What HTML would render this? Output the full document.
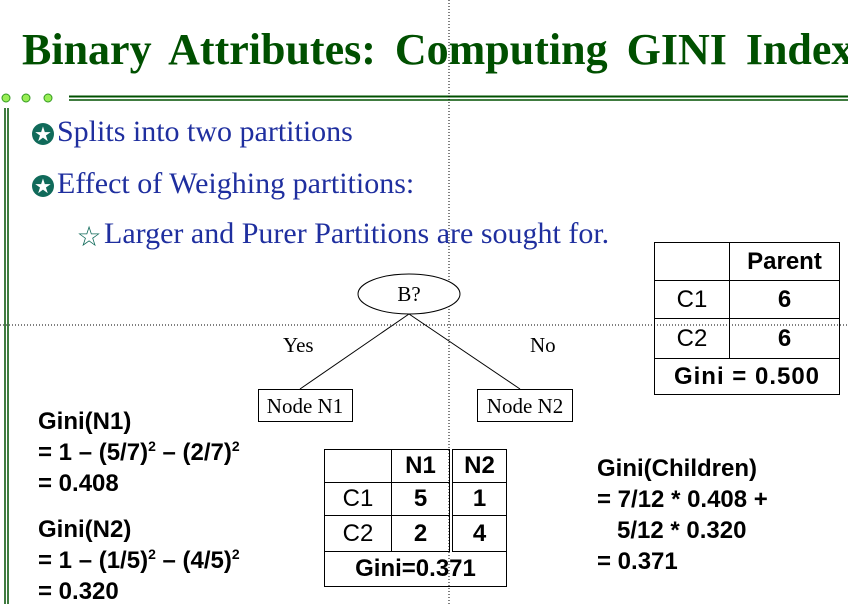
<!DOCTYPE html>
<html><head><style>
body{margin:0;width:848px;height:604px;overflow:hidden;background:#fff;position:relative;font-family:"Liberation Serif",serif}
.a{position:absolute;white-space:nowrap}
.t{color:#005000;font-weight:bold;font-size:44px;left:22px;top:24px;word-spacing:8px;width:826px;overflow:hidden}
.b{color:#1f2f9f;font-size:30px}
.s{font-family:"Liberation Sans",sans-serif;font-weight:bold;font-size:24px;color:#000;line-height:31px}
table{position:absolute;border-collapse:collapse;font-family:"Liberation Sans",sans-serif;font-size:24px}
td{border:1.5px solid #000;text-align:center;padding:0}
sup{font-size:14px;vertical-align:9px;line-height:0}
</style></head><body>
<div class="a t">Binary Attributes: Computing GINI Index</div>
<svg class="a" style="left:0;top:0" width="848" height="604">
<line x1="69" y1="96.5" x2="848" y2="96.5" stroke="#005000" stroke-width="2"/>
<line x1="69" y1="100" x2="848" y2="100" stroke="#005000" stroke-width="1.5"/>
<circle cx="6" cy="98" r="4" fill="#99ee55" stroke="#339922"/>
<circle cx="26" cy="98" r="4" fill="#99ee55" stroke="#339922"/>
<circle cx="48" cy="98" r="4" fill="#99ee55" stroke="#339922"/>
<line x1="5" y1="108" x2="5" y2="604" stroke="#005000" stroke-width="1.5"/>
<line x1="8" y1="108" x2="8" y2="604" stroke="#005000" stroke-width="1.5"/>
<line x1="0" y1="325" x2="848" y2="325" stroke="#000" stroke-dasharray="1,2"/>
<line x1="449" y1="0" x2="449" y2="604" stroke="#000" stroke-dasharray="1,2"/>
<circle cx="43" cy="134" r="11" fill="#106a5a"/>
<text x="43" y="141" fill="#fff" font-size="20" text-anchor="middle">★</text>
<circle cx="43" cy="186" r="11" fill="#106a5a"/>
<text x="43" y="193" fill="#fff" font-size="20" text-anchor="middle">★</text>
<text x="89" y="246" fill="#106a5a" font-size="28" text-anchor="middle">☆</text>
<ellipse cx="409" cy="294" rx="51" ry="20" fill="#fff" stroke="#000"/>
<line x1="409" y1="314" x2="300" y2="389" stroke="#000"/>
<line x1="409" y1="314" x2="520" y2="389" stroke="#000"/>
<rect x="258.5" y="389.5" width="94" height="32" fill="#fff" stroke="#000"/>
<rect x="477.5" y="389.5" width="95" height="32" fill="#fff" stroke="#000"/>
<g font-family="Liberation Serif" font-size="21">
<text x="409" y="301" text-anchor="middle">B?</text>
<text x="283" y="352">Yes</text>
<text x="530" y="352">No</text>
<text x="305" y="413" text-anchor="middle">Node N1</text>
<text x="525" y="413" text-anchor="middle">Node N2</text>
</g>
</svg>
<div class="a b" style="left:57px;top:115px">Splits into two partitions</div>
<div class="a b" style="left:57px;top:167px">Effect of Weighing partitions:</div>
<div class="a b" style="left:104px;top:217px">Larger and Purer Partitions are sought for.</div>
<table style="left:654px;top:242px;width:186px">
<tr style="height:38px"><td style="width:74px"></td><td style="font-weight:bold">Parent</td></tr>
<tr style="height:38px"><td>C1</td><td style="font-weight:bold">6</td></tr>
<tr style="height:40px"><td>C2</td><td style="font-weight:bold">6</td></tr>
<tr style="height:36px"><td colspan="2" style="font-weight:bold;letter-spacing:1px">Gini = 0.500</td></tr>
</table>
<table style="left:324px;top:449px;width:183px">
<tr style="height:33px"><td style="width:66px"></td><td style="width:57px;font-weight:bold;border-right:4px double #000">N1</td><td style="font-weight:bold">N2</td></tr>
<tr style="height:33px"><td>C1</td><td style="font-weight:bold;border-right:4px double #000">5</td><td style="font-weight:bold">1</td></tr>
<tr style="height:36px"><td>C2</td><td style="font-weight:bold;border-right:4px double #000">2</td><td style="font-weight:bold">4</td></tr>
<tr style="height:35px"><td colspan="3" style="font-weight:bold">Gini=0.371</td></tr>
</table>
<div class="a s" style="left:38px;top:406px">Gini(N1)<br>= 1 – (5/7)<sup>2</sup> – (2/7)<sup>2</sup><br>= 0.408</div>
<div class="a s" style="left:38px;top:514px">Gini(N2)<br>= 1 – (1/5)<sup>2</sup> – (4/5)<sup>2</sup><br>= 0.320</div>
<div class="a s" style="left:597px;top:453px">Gini(Children)<br>= 7/12 * 0.408 +<br>&nbsp;&nbsp;&nbsp;5/12 * 0.320<br>= 0.371</div>
</body></html>
